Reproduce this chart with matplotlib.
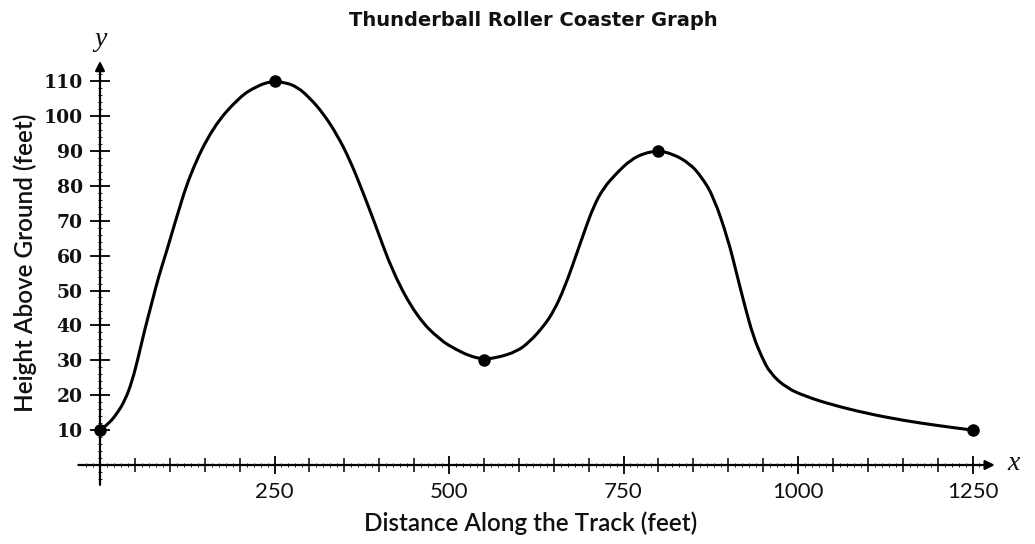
import matplotlib
matplotlib.use("Agg")
import matplotlib.pyplot as plt
from matplotlib.path import Path
from matplotlib.patches import PathPatch

# ---- data ----
track_x = [0, 12, 24, 36, 46, 55, 64, 74, 84, 96, 106, 129, 162, 200, 225, 246, 265,
           282, 300, 320, 340, 358, 375, 392, 420, 454, 487, 511, 530, 549, 570,
           597, 615, 635, 650, 666, 683, 695, 707, 721, 740, 760, 780, 800, 820, 845,
           862, 879, 900, 912, 924, 936, 948, 960, 984, 1012, 1046, 1098, 1150,
           1200, 1250]
track_y = [10, 11.8, 14.6, 18.6, 24.0, 31, 38.7, 46.3, 54, 61.6, 68.5, 83.5, 96.9, 105.5,
           108.6, 110, 109.6, 108.4, 105.3, 100.7, 94.5, 87.4, 79, 70.2, 54.9, 42.5,
           35.8, 33.0, 31.2, 30.3, 30.8, 32.5, 35.2, 39.6, 44, 51, 60.6, 67.5, 74,
           79.3, 83.6, 87.4, 89.4, 90, 89.2, 86.4, 82.5, 76.9, 64.5, 54.9, 45.4, 36.8, 31,
           26.3, 22, 19.6, 17.4, 14.8, 12.8, 11.3, 10]
point_x = [0, 250, 550, 800, 1250]
point_y = [10, 110, 30, 90, 10]

x_major = [250, 500, 750, 1000, 1250]
x_labels = ["250", "500", "750", "1000", "1250"]
x_minor = [50, 100, 150, 200, 300, 350, 400, 450, 550, 600, 650, 700, 800, 850,
           900, 950, 1050, 1100, 1150, 1200]
y_major = [10, 20, 30, 40, 50, 60, 70, 80, 90, 100, 110]
y_labels = ["10", "20", "30", "40", "50", "60", "70", "80", "90", "100", "110"]

title = "Thunderball Roller Coaster Graph"
xlabel = "Distance Along the Track (feet)"
ylabel = "Height Above Ground (feet)"

# ---- layout ----
W, H = 1035, 544
fig = plt.figure(figsize=(W / 100, H / 100), dpi=100)
ax = fig.add_axes([0, 0, 1, 1])
fig.patch.set_facecolor("white")

sx = 0.698   # px per foot
sy = 3.49    # px per unit of height
x0_px, y0_px = 100, 465
ax.set_xlim(-x0_px / sx, (W - x0_px) / sx)
ax.set_ylim(-(H - y0_px) / sy, y0_px / sy)

for s in ax.spines.values():
    s.set_visible(False)
ax.spines["left"].set_position(("data", 0))
ax.spines["bottom"].set_position(("data", 0))
ax.xaxis.set_ticks_position("bottom")
ax.yaxis.set_ticks_position("left")

ax.set_xticks(x_major)
ax.set_xticklabels(x_labels, family="Lato", fontsize=16, color="#111111")
ax.set_xticks(x_minor, minor=True)
ax.set_yticks(y_major)
ax.set_yticklabels(y_labels, family="DejaVu Serif", fontweight="bold",
                   fontsize=13.5, color="#111111")

ax.tick_params(axis="x", which="major", direction="inout", length=13, width=1.3, pad=5.5)
ax.tick_params(axis="x", which="minor", direction="inout", length=9.5, width=1.1)
ax.tick_params(axis="y", which="major", direction="inout", length=15, width=1.3, pad=5.0)

# tiny ruler ticks
tiny_x = [v for v in range(-20, 1271, 10) if v % 50 != 0]
ax.plot(tiny_x, [0] * len(tiny_x), ls="none", marker="|", ms=3, mew=0.7, color="#222222")
tiny_y = [v for v in range(-4, 115, 2) if v % 10 != 0]
ax.plot([0] * len(tiny_y), tiny_y, ls="none", marker="_", ms=3, mew=0.7, color="#222222")

# axis lines with arrows
ax.annotate("", xy=(1282, 0), xytext=(-31, 0),
            arrowprops=dict(arrowstyle="-|>", lw=1.6, color="black",
                            mutation_scale=14, shrinkA=0, shrinkB=0))
ax.annotate("", xy=(0, 115.8), xytext=(0, -5.7),
            arrowprops=dict(arrowstyle="-|>", lw=1.6, color="black",
                            mutation_scale=14, shrinkA=0, shrinkB=0))

# smooth curve through the traced points (quadratic Bezier, midpoint scheme)
pts = list(zip(track_x, track_y))
verts = [pts[0]]
codes = [Path.MOVETO]
verts.append(((pts[0][0] + pts[1][0]) / 2, (pts[0][1] + pts[1][1]) / 2))
codes.append(Path.LINETO)
for i in range(1, len(pts) - 1):
    nxt = pts[i + 1]
    mid = ((pts[i][0] + nxt[0]) / 2, (pts[i][1] + nxt[1]) / 2)
    verts += [pts[i], mid]
    codes += [Path.CURVE3, Path.CURVE3]
verts.append(pts[-1])
codes.append(Path.LINETO)
ax.add_patch(PathPatch(Path(verts, codes), fill=False, lw=2.2, edgecolor="black",
                       joinstyle="round", capstyle="round"))

ax.plot(point_x, point_y, "o", ms=8, color="black")

# texts
fig.text(533 / W, 1 - 20 / H, title, ha="center", va="center",
         family="DejaVu Sans", fontweight="bold", fontsize=14, color="#111111")
fig.text(531 / W, 1 - 523 / H, xlabel, ha="center", va="center",
         family="Lato", fontweight="semibold", fontsize=17.5, color="#111111")
fig.text(25 / W, 1 - 263 / H, ylabel, ha="center", va="center", rotation=90,
         family="Lato", fontweight="semibold", fontsize=17.5, color="#111111")
fig.text(101 / W, 1 - 40 / H, "y", ha="center", va="center",
         family="Liberation Serif", style="italic", fontsize=20, color="#111111")
fig.text(1014 / W, 1 - 463 / H, "x", ha="center", va="center",
         family="Liberation Serif", style="italic", fontsize=20, color="#111111")

fig.savefig("out.png", dpi=100, facecolor="white")
